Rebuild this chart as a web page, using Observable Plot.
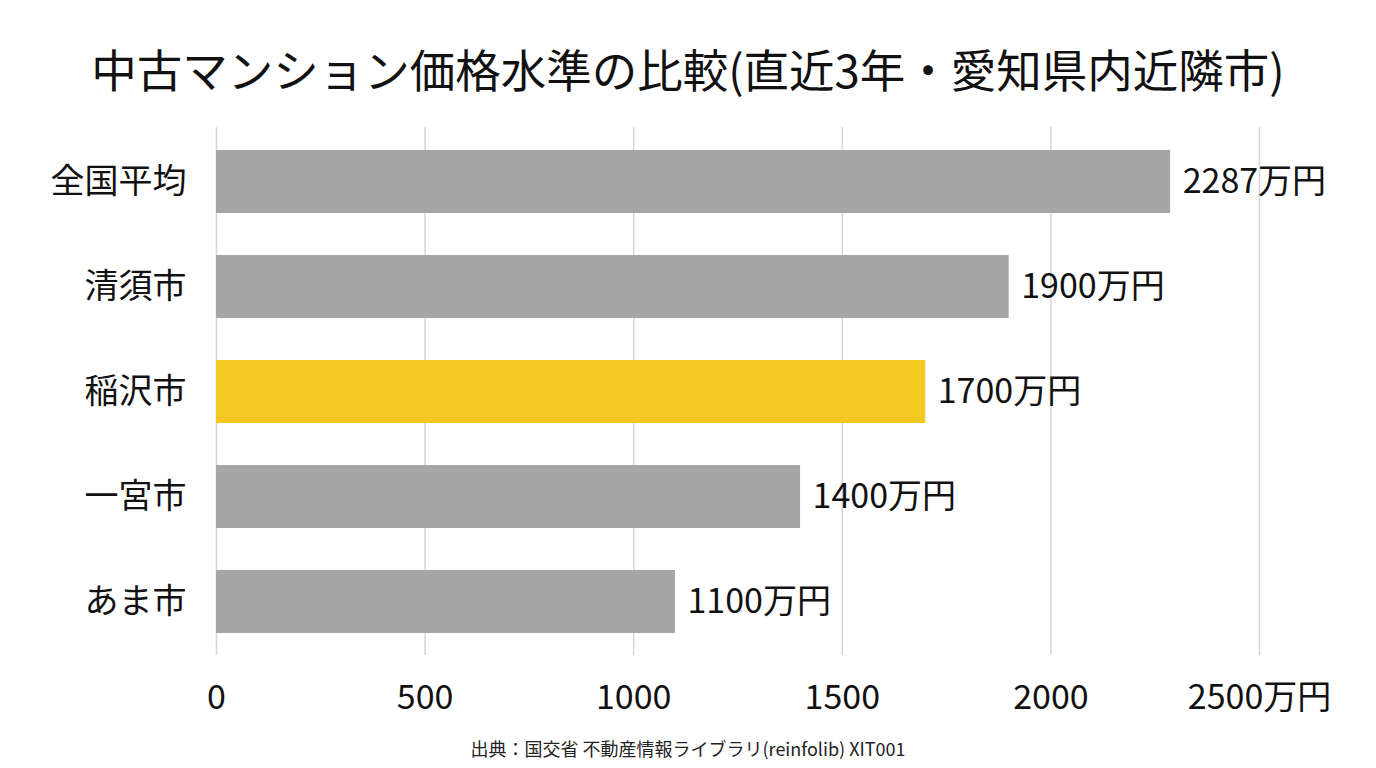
<!DOCTYPE html>
<html>
<head>
<meta charset="utf-8">
<script src="https://cdn.jsdelivr.net/npm/d3@7"></script>
<script src="https://cdn.jsdelivr.net/npm/@observablehq/plot@0.6"></script>
<style>
  html, body { margin: 0; padding: 0; background: #ffffff; }
  body { font-family: "Noto Sans CJK JP", "Noto Sans", sans-serif; color: #111; }
  #wrap { position: relative; width: 1376px; height: 768px; overflow: hidden; }
  #title { position: absolute; left: 0; top: 45px; width: 1376px; text-align: center;
           font-size: 45.5px; line-height: 46px; font-weight: 400; color: #111; }
  #chart { position: absolute; left: 0; top: 120px; }
  #caption { position: absolute; left: 0; top: 736px; width: 1376px; text-align: center;
             font-size: 18px; line-height: 24px; color: #222; }
</style>
</head>
<body>
<div id="wrap">
  <div id="title">中古マンション価格水準の比較(直近3年・愛知県内近隣市)</div>
  <div id="chart"></div>
  <div id="caption">出典：国交省 不動産情報ライブラリ(reinfolib) XIT001</div>
</div>
<script>
const categories = ["全国平均", "清須市", "稲沢市", "一宮市", "あま市"];
const values = [2287, 1900, 1700, 1400, 1100];
const highlight = "稲沢市";
const valueSuffix = "万円";
const xTicks = [0, 500, 1000, 1500, 2000, 2500];
const xTickLabels = ["0", "500", "1000", "1500", "2000", "2500万円"];
const barColor = "#a6a6a6";
const highlightColor = "#f3c823";

const rows = categories.map((c, i) => ({
  category: c,
  value: values[i],
  label: `${values[i]}${valueSuffix}`,
  fill: c === highlight ? highlightColor : barColor
}));

const chart = Plot.plot({
  width: 1376,
  height: 608,
  marginLeft: 216,
  marginRight: 117,
  marginTop: 7,
  marginBottom: 73,
  style: { fontFamily: '"Noto Sans CJK JP", "Noto Sans", sans-serif', fontSize: "34px", color: "#111", background: "transparent" },
  x: { domain: [0, 2500], ticks: xTicks, tickFormat: (d) => xTickLabels[xTicks.indexOf(d)] },
  y: { domain: categories, paddingInner: 0.4, paddingOuter: 0.2, label: null },
  marks: [
    Plot.gridX(xTicks, { stroke: "#d6d6d6", strokeOpacity: 1, strokeWidth: 1.5 }),
    Plot.barX(rows, { x: "value", y: "category", fill: "fill" }),
    Plot.text(rows, { x: "value", y: "category", text: "label", dx: 12, textAnchor: "start", fontSize: 34, fill: "#111" }),
    Plot.axisX(xTicks, { tickSize: 0, tickPadding: 29, label: null, fontSize: 34, fill: "#111", tickFormat: (d) => xTickLabels[xTicks.indexOf(d)] }),
    Plot.axisY({ tickSize: 0, tickPadding: 30, label: null, fontSize: 34, fill: "#111" })
  ]
});
document.getElementById("chart").appendChild(chart);
</script>
</body>
</html>
